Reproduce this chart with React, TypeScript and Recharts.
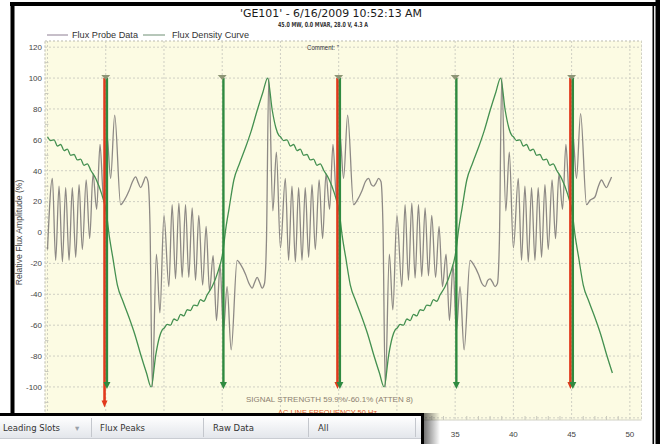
import React from 'react';
import {
  LineChart,
  Line,
  XAxis,
  YAxis,
  CartesianGrid,
  ReferenceLine,
  ReferenceArea,
} from 'recharts';

// ---------- data ----------
const probeT = [
  0, 0.42, 0.7, 0.99, 1.28, 1.56, 1.85, 2.13, 2.42, 2.71, 2.99, 3.32, 3.62, 3.91, 4.22, 4.51, 4.82, 5.1, 5.42, 5.77, 6.28, 6.6, 7, 7.3, 7.57, 7.8, 8, 8.2, 8.43, 8.63, 8.8,
  9, 9.35, 9.65, 10, 10.42, 10.7, 10.99, 11.28, 11.56, 11.85, 12.13, 12.42, 12.71, 12.99, 13.32, 13.62, 13.91, 14.22, 14.51, 14.82, 15.1, 15.42, 15.77, 16.28, 16.6, 17, 17.3, 17.57, 17.8, 18, 18.2, 18.43, 18.63, 18.8, 19, 19.35, 19.65,
  20, 20.42, 20.7, 20.99, 21.28, 21.56, 21.85, 22.13, 22.42, 22.71, 22.99, 23.32, 23.62, 23.91, 24.22, 24.51, 24.82, 25.1, 25.42, 25.77, 26.28, 26.6, 27, 27.3, 27.57, 27.8, 28, 28.2, 28.43, 28.63, 28.8,
  29, 29.35, 29.65, 30, 30.42, 30.7, 30.99, 31.28, 31.56, 31.85, 32.13, 32.42, 32.71, 32.99, 33.32, 33.62, 33.91, 34.22, 34.51, 34.82, 35.1, 35.42, 35.77, 36.28, 36.6, 37, 37.3, 37.57, 37.8, 38, 38.2, 38.43, 38.63, 38.8, 39, 39.35, 39.65,
  40, 40.42, 40.7, 40.99, 41.28, 41.56, 41.85, 42.13, 42.42, 42.71, 42.99, 43.32, 43.62, 43.91, 44.22, 44.51, 44.82, 45.1, 45.42, 45.77, 46.28, 46.6, 47, 47.3, 47.57, 47.8, 48, 48.2, 48.43,
];
const probeV = [
  -11, 35, -18, 30, -19, 29, -18, 29, -16, 31, -11, 34, -4, 38, 15, 57, 21, 64, 35, 76, 18, 21, 27, 33, 36, 32, 29, 32, 36, 33, 5,
  -100, -14, -52, 11, -35, 18, -30, 19, -29, 18, -29, 16, -31, 11, -34, 4, -38, -15, -57, -21, -64, -35, -76, -18, -21, -27, -33, -36, -32, -29, -32, -36, -33, -5, 100, 14, 52,
  -10, 35, -18, 30, -19, 29, -18, 29, -16, 31, -11, 34, -4, 38, 15, 57, 21, 64, 35, 76, 18, 21, 27, 33, 35, 31, 30, 32, 35, 33, 5,
  -100, -14, -50, 11, -35, 18, -31, 19, -29.5, 18, -28.5, 16, -28, 11, -29, 4, -35, -14, -57, -21, -64, -35, -76, -18, -21, -27, -33, -35, -31, -30, -32, -35, -33, -5, 100, 14, 52,
  -10, 35, -18, 30, -19, 29, -18, 29, -16, 31, -11, 34, -4, 38, 15, 57, 21, 64, 35, 77, 18, 21, 23, 30, 34, 31, 29, 32, 36,
];

const densityT = [
  0, 0.28, 0.57, 0.85, 1.14, 1.42, 1.71, 1.99, 2.28, 2.56, 2.85, 3.13, 3.42, 3.7, 4.14, 4.65, 5.05, 5.3, 5.6, 6, 6.5, 7, 7.5, 8, 8.5, 8.9, 9.3, 9.6, 9.85,
  10, 10.28, 10.57, 10.85, 11.14, 11.42, 11.71, 11.99, 12.28, 12.56, 12.85, 13.13, 13.42, 13.7, 14.14, 14.65, 15.05, 15.3, 15.6, 16, 16.5, 17, 17.5, 18, 18.5, 18.9, 19.3, 19.6, 19.85,
  20, 20.28, 20.57, 20.85, 21.14, 21.42, 21.71, 21.99, 22.28, 22.56, 22.85, 23.13, 23.42, 23.7, 24.14, 24.65, 25.05, 25.3, 25.6, 26, 26.5, 27, 27.5, 28, 28.5, 28.9, 29.3, 29.6, 29.85,
  30, 30.28, 30.57, 30.85, 31.14, 31.42, 31.71, 31.99, 32.28, 32.56, 32.85, 33.13, 33.42, 33.7, 34.14, 34.65, 35.05, 35.3, 35.6, 36, 36.5, 37, 37.5, 38, 38.5, 38.9, 39.3, 39.6, 39.85,
  40, 40.28, 40.57, 40.85, 41.14, 41.42, 41.71, 41.99, 42.28, 42.56, 42.85, 43.13, 43.42, 43.7, 44.14, 44.65, 45.05, 45.3, 45.6, 46, 46.5, 47, 47.5, 48, 48.5,
];
const densityV = [
  62, 59.5, 60, 56, 57, 53, 54, 50, 50.5, 47, 47.5, 43.5, 44.5, 40.5, 35, 25, 13, -2, -16, -34, -45, -55, -66, -79, -91, -100, -79, -68, -63,
  -62, -59.5, -60, -56, -57, -53, -54, -50, -50.5, -47, -47.5, -43.5, -44.5, -40.5, -35, -25, -13, 2, 16, 34, 45, 55, 66, 79, 91, 100, 79, 68, 63,
  62, 59.5, 60, 56, 57, 53, 54, 50, 50.5, 47, 47.5, 43.5, 44.5, 40.5, 35, 25, 13, -2, -16, -34, -45, -55, -66, -79, -91, -100, -79, -68, -63,
  -62, -59.5, -60, -56, -57, -53, -54, -50, -50.5, -47, -47.5, -43.5, -44.5, -40.5, -35, -25, -13, 2, 16, 34, 45, 55, 66, 79, 91, 100, 79, 68, 63,
  62, 59.5, 60, 56, 57, 53, 54, 50, 50.5, 47, 47.5, 43.5, 44.5, 40.5, 35, 25, 13, -2, -16, -34, -45, -55, -66, -79, -91,
];

const xTicks = [0, 5, 10, 15, 20, 25, 30, 35, 40, 45, 50];
// tick labels left of 35 sit under the overlaid tab panel in the screenshot
const xTickLabelsShown = [35, 40, 45, 50];
const yTicks = [-120, -100, -80, -60, -40, -20, 0, 20, 40, 60, 80, 100, 120];
const minorXTicks = [
  1, 2, 3, 4, 6, 7, 8, 9, 11, 12, 13, 14, 16, 17, 18, 19, 21, 22, 23, 24, 26, 27, 28, 29,
  31, 32, 33, 34, 36, 37, 38, 39, 41, 42, 43, 44, 46, 47, 48, 49,
];
const minorYTicks = [-110, -90, -70, -50, -30, -10, 10, 30, 50, 70, 90, 110];
const xDomain: [number, number] = [-0.215, 51.0];
const yDomain: [number, number] = [-121.4, 124];

const greenMarkers = [5, 15, 25, 35, 45];
const redMarkers = [5, 25, 45];
const redMarkerBottoms = [-112, -100, -100];
const markerTop = 100;
const markerBottom = -100;

const seriesNames = ['Flux Probe Data', 'Flux Density Curve'];
const legendColors = ['#8e7f93', '#6f8f74'];
const PROBE_COLOR = '#8d8985';
const DENSITY_COLOR = '#449050';
const RED = '#e2391c';
const GREEN = '#2f8a40';

const probeData = probeT.map((t, i) => ({ t, v: probeV[i] }));
const densityData = densityT.map((t, i) => ({ t, v: densityV[i] }));

const FONT = '"Liberation Sans", Arial, sans-serif';

// ---------- marker shapes ----------
const greenShape = (p: any) => {
  const x = p.x1 + 1.2;
  const cx = p.x1;
  return (
    <g>
      <line x1={x} y1={p.y1} x2={x} y2={p.y2 - 3} stroke={GREEN} strokeWidth={2.4} />
      <polygon
        points={`${x - 3.5},${p.y2 - 5} ${x + 3.5},${p.y2 - 5} ${x},${p.y2 + 2}`}
        fill={GREEN}
      />
      <polygon
        points={`${cx - 4.5},${p.y1 - 3} ${cx + 4.5},${p.y1 - 3} ${cx},${p.y1 + 2}`}
        fill="#8e9676"
      />
    </g>
  );
};

const redShape = (p: any) => {
  const x = p.x1 - 1.2;
  return (
    <g>
      <line x1={x} y1={p.y1} x2={x} y2={p.y2 - 3} stroke={RED} strokeWidth={2.6} />
      <polygon
        points={`${x - 3},${p.y2 - 5} ${x + 3},${p.y2 - 5} ${x},${p.y2 + 2}`}
        fill={RED}
      />
    </g>
  );
};

const XTick = (props: any) => {
  const { x, y, payload } = props;
  if (!xTickLabelsShown.includes(payload.value)) return <g />;
  return (
    <text x={x} y={y} dy={5.7} textAnchor="middle" fontSize={8} fill="#444" fontFamily={FONT}>
      {payload.value}
    </text>
  );
};

export default function App() {
  return (
    <div
      style={{
        position: 'absolute',
        left: 0,
        top: 0,
        width: 660,
        height: 444,
        background: '#fff',
        overflow: 'hidden',
        fontFamily: FONT,
      }}
    >
      <LineChart
        width={660}
        height={444}
        margin={{ top: 41, right: 18.5, bottom: 0, left: 10 }}
      >
        <CartesianGrid
          stroke="#cfcfc3"
          strokeDasharray="2 2"
          fill="#fcfbe3"
          fillOpacity={1}
        />
        <ReferenceArea
          x1={xDomain[0]}
          x2={xDomain[1]}
          y1={yDomain[0]}
          y2={yDomain[1]}
          fill="none"
          stroke="#d2d2c6"
          strokeDasharray="2 2"
          ifOverflow="visible"
        />
        {minorXTicks.map((t) => (
          <ReferenceLine
            key={'mx' + t}
            segment={[
              { x: t, y: yDomain[0] },
              { x: t, y: yDomain[0] + 2.6 },
            ]}
            stroke="#c9c9bd"
            strokeWidth={1}
          />
        ))}
        {minorYTicks.map((v) => (
          <ReferenceLine
            key={'my' + v}
            segment={[
              { x: xDomain[0], y: v },
              { x: xDomain[0] + 0.3, y: v },
            ]}
            stroke="#c9c9bd"
            strokeWidth={1}
          />
        ))}
        <XAxis
          dataKey="t"
          type="number"
          domain={xDomain}
          ticks={xTicks}
          allowDataOverflow
          interval={0}
          height={24}
          tickLine={false}
          axisLine={false}
          tickSize={0}
          tickMargin={11}
          tick={<XTick />}
        />
        <YAxis
          type="number"
          domain={yDomain}
          ticks={yTicks}
          allowDataOverflow
          interval={0}
          width={35}
          tickLine={false}
          axisLine={false}
          tickSize={0}
          tickMargin={3}
          tick={{ fontSize: 8, fill: '#444', fontFamily: FONT }}
          label={{
            value: 'Relative Flux Amplitude (%)',
            angle: -90,
            position: 'insideLeft',
            offset: 9,
            dy: 2,
            style: { textAnchor: 'middle', fontSize: 8.6, fill: '#444', fontFamily: FONT },
          }}
        />
        <Line
          data={probeData}
          dataKey="v"
          name={seriesNames[0]}
          type="monotone"
          stroke={PROBE_COLOR}
          strokeWidth={1.3}
          dot={false}
          isAnimationActive={false}
        />
        <Line
          data={densityData}
          dataKey="v"
          name={seriesNames[1]}
          type="monotone"
          stroke={DENSITY_COLOR}
          strokeWidth={1.3}
          dot={false}
          isAnimationActive={false}
        />
        {redMarkers.map((t, i) => (
          <ReferenceLine
            key={'r' + t}
            segment={[
              { x: t, y: markerTop },
              { x: t, y: redMarkerBottoms[i] },
            ]}
            shape={redShape}
          />
        ))}
        {greenMarkers.map((t) => (
          <ReferenceLine
            key={'g' + t}
            segment={[
              { x: t, y: markerTop },
              { x: t, y: markerBottom },
            ]}
            shape={greenShape}
          />
        ))}
      </LineChart>

      {/* titles, legend, annotations, frame */}
      <svg
        width={660}
        height={444}
        style={{ position: 'absolute', left: 0, top: 0, pointerEvents: 'none' }}
      >
        <text
          x={331}
          y={17}
          textAnchor="middle"
          fontFamily='"DejaVu Sans", sans-serif'
          fontSize={11}
          fill="#1a1a1a"
          textLength={182}
          lengthAdjust="spacingAndGlyphs"
        >
          'GE101' - 6/16/2009 10:52:13 AM
        </text>
        <text
          x={323}
          y={27}
          textAnchor="middle"
          fontFamily='"DejaVu Sans", sans-serif'
          fontSize={7}
          fontWeight="bold"
          fill="#333"
          textLength={90}
          lengthAdjust="spacingAndGlyphs"
        >
          45.0 MW, 0.0 MVAR, 28.0 V, 4.3 A
        </text>

        {/* legend */}
        <line x1={47} y1={35} x2={68} y2={35} stroke={legendColors[0]} strokeWidth={1} />
        <text x={72} y={38} fontFamily={FONT} fontSize={8.8} fill="#333" textLength={66} lengthAdjust="spacingAndGlyphs">
          {seriesNames[0]}
        </text>
        <line x1={143} y1={35} x2={165} y2={35} stroke={legendColors[1]} strokeWidth={1} />
        <text x={172} y={38} fontFamily={FONT} fontSize={8.8} fill="#333" textLength={77} lengthAdjust="spacingAndGlyphs">
          {seriesNames[1]}
        </text>

        <text x={307} y={50.3} fontFamily={FONT} fontSize={7} fill="#333" textLength={32} lengthAdjust="spacingAndGlyphs">
          Comment: ''
        </text>
        <text x={246} y={402} fontFamily={FONT} fontSize={7.3} fill="#8c8070" textLength={167} lengthAdjust="spacingAndGlyphs">
          SIGNAL STRENGTH 59.9%/-60.1% (ATTEN 8)
        </text>
        <text x={278} y={414.5} fontFamily={FONT} fontSize={7.5} fill="#e35a2e" textLength={99} lengthAdjust="spacingAndGlyphs">
          AC LINE FREQUENCY 50 Hz
        </text>

        {/* screenshot frame */}
        <rect x={10} y={2} width={646} height={4} fill="#000" />
        <rect x={10.5} y={2} width={4} height={412} fill="#000" />
        <rect x={652.5} y={2} width={1.6} height={442} fill="#000" />
        <rect x={655.5} y={0} width={5} height={444} fill="#000" />
      </svg>

      {/* overlay tab panel */}
      <div
        style={{
          position: 'absolute',
          left: 424,
          top: 413,
          width: 16,
          height: 31,
          background: 'linear-gradient(to right, rgba(0,0,0,0.55), rgba(0,0,0,0))',
        }}
      />
      <div
        style={{
          position: 'absolute',
          left: 0,
          top: 412.5,
          width: 421,
          height: 32,
          borderTop: '3px solid #000',
          borderRight: '3px solid #000',
          background: '#fff',
          fontFamily: '"DejaVu Sans", sans-serif',
          fontSize: 8.5,
          color: '#333',
        }}
      >
        <div
          style={{
            position: 'absolute',
            left: 0,
            top: 0,
            width: 421,
            height: 22,
            background: 'linear-gradient(#ffffff, #e3e6eb)',
            borderBottom: '1px solid #c9ccd2',
          }}
        >
          {[91, 203, 308, 415].map((x) => (
            <div
              key={x}
              style={{ position: 'absolute', left: x, top: 2, width: 1, height: 19, background: '#c4c7cd' }}
            />
          ))}
          <span style={{ position: 'absolute', left: 3, top: 7, whiteSpace: 'nowrap' }}>Leading Slots</span>
          <span style={{ position: 'absolute', left: 75, top: 7, color: '#9aa0a8' }}>▾</span>
          <span style={{ position: 'absolute', left: 100, top: 7, whiteSpace: 'nowrap' }}>Flux Peaks</span>
          <span style={{ position: 'absolute', left: 213, top: 7, whiteSpace: 'nowrap' }}>Raw Data</span>
          <span style={{ position: 'absolute', left: 318, top: 7, whiteSpace: 'nowrap' }}>All</span>
        </div>
      </div>
    </div>
  );
}
